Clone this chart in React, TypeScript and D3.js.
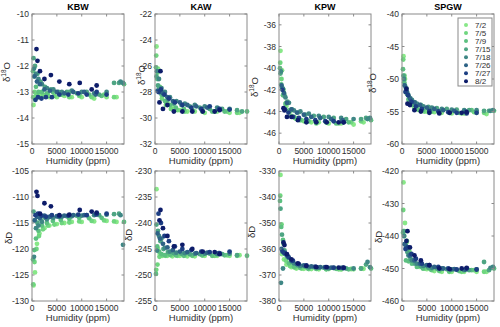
import React from 'react';
import * as d3 from 'd3';

// dates of the calibration runs and their marker colours
const dates = ['7/2', '7/5', '7/9', '7/15', '7/18', '7/26', '7/27', '8/2'];
const dateColors = ['#88e888', '#6fd67f', '#5cc080', '#4ea583', '#3f8785', '#2e6386', '#1d3f83', '#0d1c6a'];

// humidity levels (ppm) per date
const hum72 = [300, 600, 1000, 1500, 2500, 3500, 5000, 6500, 8000, 10000, 12500, 15000, 17000];
const hum75 = [250, 500, 900, 1400, 2200, 3200, 4500, 6000, 7500, 9500, 12000, 14500, 16500];
const hum79 = [200, 450, 800, 1300, 2000, 3000, 4200, 5800, 7500, 9500, 11500, 14000, 18500];
const hum715 = [300, 600, 1100, 1700, 2600, 3800, 5300, 7000, 9000, 11000, 13500, 16500, 17500];
const hum718 = [400, 800, 1300, 2000, 3000, 4300, 6000, 8000, 10000, 12500, 15000, 17800, 18300];
const hum726 = [500, 1000, 1600, 2500, 3600, 5000, 6500, 8300, 10500, 12800];
const hum727 = [700, 1200, 1900, 2800, 4000, 5500, 7300, 9300, 11000, 13000, 15000];
const hum82 = [900, 1100, 1600, 2500, 3800, 5500, 7500, 9600, 12000, 13000];
const humidity = [hum72, hum75, hum79, hum715, hum718, hum726, hum727, hum82];

// d18O per site, one row per date
const kbwO18 = [
  [-13.5, -13.3, -13.2, -13.1, -13.15, -13.2, -13.2, -13.15, -13.2, -13.2, -13.25, -13.2, -13.2],
  [-13.2, -13.0, -13.1, -13.2, -13.1, -13.1, -13.15, -13.1, -13.2, -13.15, -13.2, -13.1, -13.2],
  [-12.2, -12.4, -12.8, -13.0, -13.0, -13.05, -13.0, -13.1, -13.0, -13.1, -13.1, -13.15, -12.7],
  [-11.7, -12.0, -12.3, -12.6, -12.8, -12.9, -13.0, -13.0, -13.05, -13.0, -13.1, -12.65, -12.65],
  [-12.1, -12.3, -12.5, -12.7, -12.85, -12.9, -13.0, -12.95, -13.0, -13.05, -13.0, -12.6, -12.65],
  [-12.4, -12.6, -12.7, -12.9, -12.95, -13.0, -13.05, -13.0, -13.0, -13.1],
  [-13.3, -13.2, -13.25, -13.2, -13.2, -13.1, -13.1, -13.05, -13.1, -13.0, -13.1],
  [-11.35, -11.8, -12.2, -12.5, -12.35, -12.6, -12.7, -12.65, -12.9, -12.75],
];
const kawO18 = [
  [-24.5, -26.2, -27.6, -28.3, -28.9, -29.2, -29.4, -29.5, -29.5, -29.6, -29.5, -29.6, -29.6],
  [-25.2, -26.5, -27.8, -28.5, -29.0, -29.3, -29.4, -29.5, -29.4, -29.5, -29.5, -29.5, -29.6],
  [-26.1, -27.0, -27.6, -28.2, -28.7, -29.0, -29.2, -29.3, -29.4, -29.4, -29.5, -29.5, -29.5],
  [-26.8, -27.5, -27.9, -28.2, -28.6, -28.9, -29.0, -29.1, -29.2, -29.3, -29.3, -29.4, -29.5],
  [-26.4, -27.0, -27.7, -28.0, -28.4, -28.7, -28.9, -29.0, -29.1, -29.2, -29.3, null, null],
  [-27.9, -28.0, -28.1, -28.4, -28.7, -28.8, -29.0, -29.1, -29.2, -29.3],
  [-28.0, -27.8, -28.2, -28.5, -28.8, -29.0, -29.2, -29.3, -29.1, -29.3, -29.35],
  [-28.8, -26.4, -29.3, -29.0, -29.5, -29.5, -29.5, -29.5, -29.5, -29.4],
];
const kpwO18 = [
  [-38.4, -40.2, -42.3, -43.5, -44.4, -44.7, -44.9, -45.0, -45.0, -45.1, -45.1, -45.2, -45.0],
  [-39.5, -41.0, -42.0, -43.2, -44.0, -44.6, -44.8, -44.9, -45.1, -45.0, -45.1, -45.0, -44.9],
  [-40.0, -41.5, -42.5, -43.3, -43.9, -44.5, -44.8, -44.9, -45.0, -45.0, -45.1, -45.0, -44.8],
  [-40.5, -41.8, -42.5, -43.1, -43.8, -44.1, -44.3, -44.4, -44.5, -44.6, -44.7, -44.7, -44.6],
  [-40.3, -41.9, -42.7, -43.2, -43.9, -44.0, -44.2, -44.4, -44.5, -44.6, -44.7, -44.7, -44.6],
  [-41.6, -42.3, -43.2, -43.8, -44.1, -44.3, -44.5, -44.6, -44.7, -44.8],
  [-42.0, -43.8, -44.1, -44.5, -44.6, -44.7, -44.8, -44.9, -44.9, -45.0, null],
  [-43.7, -43.9, -44.5, -44.5, -44.8, -45.0, -45.0, -45.0, -45.0, -45.0],
];
const spgwO18 = [
  [-46.5, -50.0, -52.3, -53.5, -54.5, -54.8, -55.0, -55.1, -55.2, -55.3, -55.3, -55.2, -55.4],
  [-47.0, -49.5, -51.5, -53.0, -54.0, -54.7, -55.0, -55.0, -55.1, -55.2, -55.3, -55.1, -55.2],
  [-48.5, -50.5, -52.0, -53.2, -54.0, -54.5, -54.8, -55.0, -55.0, -55.1, -55.2, -54.8, -54.9],
  [-49.5, -51.0, -52.2, -53.0, -53.6, -54.0, -54.3, -54.5, -54.6, -54.7, -54.8, -54.9, -54.9],
  [-50.0, -51.5, -52.5, -53.2, -53.8, -54.2, -54.4, -54.6, -54.7, -54.8, -54.8, -54.9, -54.8],
  [-51.0, -52.0, -53.0, -53.6, -54.0, -54.4, -54.6, -54.8, -54.9, -55.0],
  [-52.0, -52.5, -53.5, -54.2, -54.6, -54.9, -55.0, -55.1, -55.2, -55.3, -55.2],
  [-51.5, -53.8, -54.0, -54.8, -55.0, -55.2, -55.3, -55.2, -55.2, -55.1],
];

// dD per site, one row per date
const kbwD = [
  [-127.0, -124.5, -119.0, -117.0, -116.0, -115.5, -115.2, -115.0, -114.8, -114.8, -114.7, -114.6, -114.8],
  [-126.8, -122.5, -120.0, -117.5, -116.2, -115.5, -115.3, -115.0, -114.9, -114.7, -114.6, -114.5, -114.7],
  [-122.0, -120.2, -118.0, -116.5, -115.5, -115.0, -114.6, -114.4, -114.2, -114.0, -114.1, -114.0, -114.8],
  [-112.8, -114.5, -115.0, -114.3, -114.0, -113.8, -113.8, -113.7, -113.6, -113.5, -113.5, -113.3, -113.2],
  [-121.5, -116.0, -115.5, -114.8, -114.3, -114.0, -113.8, -113.7, -113.6, -113.5, -113.4, -113.5, -119.2],
  [-114.5, -113.8, -114.0, -113.6, -113.8, -113.7, -113.6, -113.5, -113.5, -113.4],
  [-113.5, -113.2, -113.6, -113.8, -113.5, -113.7, -113.6, -113.4, -113.5, -113.3, -113.2],
  [-109.0, -109.8, -113.2, -111.2, -111.8, -113.5, -113.4, -112.5, -112.8, -113.0],
];
const kawD = [
  [-233.5, -245.0, -246.0, -246.3, -246.3, -246.4, -246.3, -246.4, -246.4, -246.3, -246.3, -246.3, -246.2],
  [-249.0, -248.0, -246.5, -246.2, -246.3, -246.2, -246.3, -246.2, -246.3, -246.2, -246.3, -246.2, -246.3],
  [-249.8, -244.5, -245.5, -246.0, -246.2, -246.1, -246.2, -246.3, -246.2, -246.2, -246.3, -246.2, -246.3],
  [-240.3, -241.5, -243.5, -245.0, -245.6, -245.8, -245.9, -246.0, -246.0, -245.9, -246.0, -246.2, null],
  [-245.3, -242.5, -243.0, -244.8, -245.5, -245.7, -245.8, -245.9, -245.9, -246.0, -245.9, null, null],
  [-242.0, -243.0, -244.0, -244.7, -245.2, -245.5, -245.6, -245.8, -245.7, -245.8],
  [-238.2, -240.0, -242.5, -243.5, -244.5, -245.0, -245.2, -245.5, -245.6, -245.8, -245.5],
  [-239.5, -237.5, -241.0, -242.5, -244.5, -244.2, -245.0, -245.5, -245.6, -246.0],
];
const kpwD = [
  [-331.5, -362.0, -364.0, -366.0, -367.0, -367.5, -367.6, -367.7, -367.8, -367.7, -367.9, -367.8, -367.6],
  [-339.5, -350.5, -358.0, -364.5, -366.5, -367.2, -367.5, -367.7, -367.6, -367.8, -367.8, -367.7, -367.5],
  [-341.5, -351.5, -356.5, -362.0, -365.5, -366.8, -367.2, -367.5, -367.6, -367.7, -367.6, -367.8, -367.5],
  [-344.5, -354.5, -360.5, -363.0, -365.0, -366.3, -366.8, -367.0, -367.2, -367.3, -367.5, -367.5, -366.0],
  [-373.0, -367.5, -362.0, -363.5, -365.5, -366.5, -367.0, -367.2, -367.4, -367.3, -367.5, -365.0, -367.0],
  [-360.0, -361.5, -362.5, -364.5, -365.8, -366.3, -366.7, -367.0, -367.2, -367.3],
  [-361.0, -361.5, -363.0, -364.5, -365.8, -366.3, -366.8, -367.0, -367.2, -367.3, null],
  [-357.5, -358.5, -362.0, -364.0, -365.5, -366.5, -367.0, -367.0, -367.2, -367.2],
];
const spgwD = [
  [-423.5, -436.0, -441.5, -445.0, -448.0, -449.5, -450.2, -450.8, -451.0, -451.0, -451.0, -451.0, -451.0],
  [-432.0, -438.5, -442.0, -444.5, -447.5, -449.0, -450.0, -450.5, -450.8, -451.0, -451.0, -450.5, -451.0],
  [-439.0, -440.0, -447.5, -447.8, -448.5, -449.5, -450.0, -450.3, -450.6, -450.8, -450.8, -450.5, -450.0],
  [-438.5, -442.5, -445.0, -447.0, -448.5, -449.3, -449.8, -450.0, -450.2, -450.4, -450.5, -448.0, -450.5],
  [-440.0, -443.0, -446.0, -447.5, -448.5, -449.2, -449.8, -450.0, -450.3, -450.5, -450.3, -449.8, -449.5],
  [-442.5, -443.5, -446.0, -447.5, -448.5, -449.0, -449.5, -450.0, -450.2, -450.3],
  [-444.0, -443.5, -445.5, -447.0, -448.5, -449.0, -449.5, -450.0, -450.3, -450.0, -450.3],
  [-441.5, -438.5, -443.5, -446.0, -447.5, -449.0, -450.0, -450.2, -450.0, -449.8],
];

const sites = ['KBW', 'KAW', 'KPW', 'SPGW'];
const o18Data = [kbwO18, kawO18, kpwO18, spgwO18];
const dData = [kbwD, kawD, kpwD, spgwD];
const o18Domains = [[-15, -10], [-32, -22], [-47, -35], [-60, -40]];
const o18Ticks = [
  [-15, -14, -13, -12, -11, -10],
  [-32, -30, -28, -26, -24, -22],
  [-46, -44, -42, -40, -38, -36],
  [-60, -55, -50, -45, -40],
];
const dDomains = [[-130, -105], [-255, -230], [-380, -330], [-460, -420]];
const dTicks = [
  [-130, -125, -120, -115, -110, -105],
  [-255, -250, -245, -240, -235, -230],
  [-380, -370, -360, -350, -340, -330],
  [-460, -450, -440, -430, -420],
];
const humTicks = [0, 5000, 10000, 15000];
const humDomain = [0, 18500];

const FONT = 'Liberation Sans, Arial, Helvetica, sans-serif';
const lefts = [32, 155, 279, 402];
const PW = 92;
const rows = [{ top: 14, bottom: 144 }, { top: 171, bottom: 301 }];
// where matlab ended up putting the y labels
const ylabX = [[22, 10, 21, 26], [20, 23, 24, 20]];
const ylabY = [[72, 75, 87, 83], [238, 235, 232, 237]];
const AX = '#8a8a8a';
const TXT = '#2e2e2e';

type PanelProps = { col: number; row: number };

function Panel({ col, row }: PanelProps) {
  const left = lefts[col];
  const { top, bottom } = rows[row];
  const x = d3.scaleLinear().domain(humDomain).range([left, left + PW]);
  const dom = row === 0 ? o18Domains[col] : dDomains[col];
  const ticks = row === 0 ? o18Ticks[col] : dTicks[col];
  const data = row === 0 ? o18Data[col] : dData[col];
  const y = d3.scaleLinear().domain(dom).range([bottom, top]);
  const tl = 2.5;
  const ylx = left - ylabX[row][col];
  const ylY = ylabY[row][col];

  return (
    <g>
      {row === 0 && (
        <text x={left + PW / 2} y={top - 4} textAnchor="middle" fontFamily={FONT} fontSize={9} fontWeight="bold" fill="#000">
          {sites[col]}
        </text>
      )}
      {data.map((vals, di) =>
        vals.map((v, i) =>
          v === null ? null : (
            <circle key={`${di}-${i}`} cx={x(humidity[di][i])} cy={y(v)} r={2.4} fill={dateColors[di]} />
          )
        )
      )}
      <rect x={left} y={top} width={PW} height={bottom - top} fill="none" stroke={AX} strokeWidth={1} />
      {ticks.map((t) => (
        <g key={`y${t}`}>
          <line x1={left} x2={left + tl} y1={y(t)} y2={y(t)} stroke={AX} />
          <line x1={left + PW} x2={left + PW - tl} y1={y(t)} y2={y(t)} stroke={AX} />
          <text x={left - 3} y={y(t) + 3} textAnchor="end" fontFamily={FONT} fontSize={8.5} fill={TXT}>
            {t}
          </text>
        </g>
      ))}
      {humTicks.map((t) => (
        <g key={`x${t}`}>
          <line x1={x(t)} x2={x(t)} y1={bottom} y2={bottom - tl} stroke={AX} />
          <line x1={x(t)} x2={x(t)} y1={top} y2={top + tl} stroke={AX} />
          <text x={x(t)} y={bottom + 10} textAnchor="middle" fontFamily={FONT} fontSize={8.5} fill={TXT}>
            {t}
          </text>
        </g>
      ))}
      <text x={left + PW / 2} y={bottom + 20} textAnchor="middle" fontFamily={FONT} fontSize={9.5} fill={TXT}>
        Humidity (ppm)
      </text>
      <text transform={`translate(${ylx},${ylY}) rotate(-90)`} textAnchor="middle" fontFamily={FONT} fontSize={9.5} fill={TXT}>
        {row === 0 ? (
          <>
            δ<tspan dy={-4} fontSize={6.5}>18</tspan>
            <tspan dy={4}>O</tspan>
          </>
        ) : (
          'δD'
        )}
      </text>
    </g>
  );
}

function Legend() {
  const lx = 458;
  const ly = 18;
  const step = 8.05;
  return (
    <g>
      <rect x={lx} y={ly} width={34} height={68} fill="#fff" stroke={AX} strokeWidth={1} />
      {dates.map((d, i) => (
        <g key={d}>
          <circle cx={466} cy={ly + 7 + i * step} r={2} fill={dateColors[i]} />
          <text x={475} y={ly + 10 + i * step} fontFamily={FONT} fontSize={8} fill={TXT}>
            {d}
          </text>
        </g>
      ))}
    </g>
  );
}

export default function App() {
  return (
    <svg width={500} height={327} style={{ position: 'absolute', left: 0, top: 0, background: '#fff' }}>
      <rect width={500} height={327} fill="#fff" />
      {[0, 1].map((row) =>
        [0, 1, 2, 3].map((col) => <Panel key={`${row}-${col}`} row={row} col={col} />)
      )}
      <Legend />
    </svg>
  );
}
